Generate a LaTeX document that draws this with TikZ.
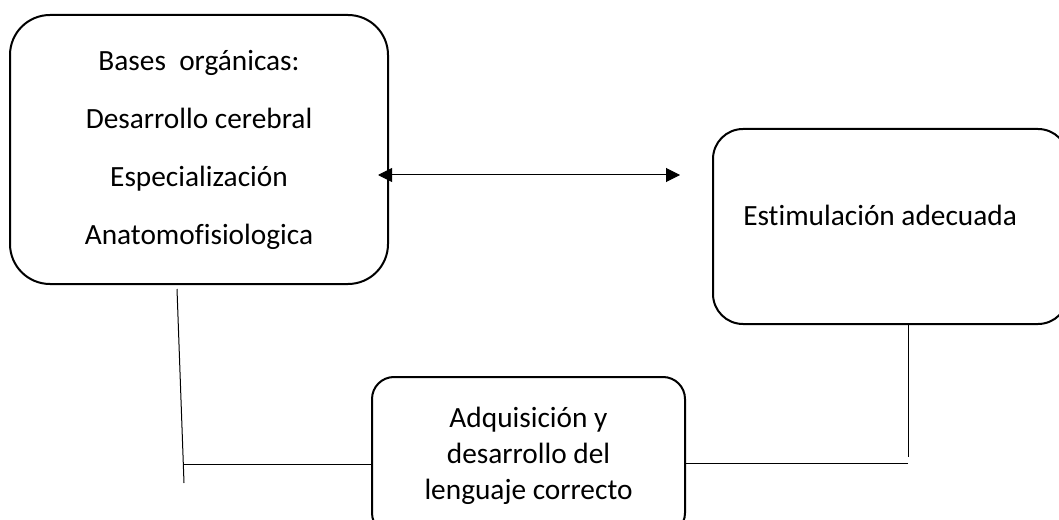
\documentclass[tikz,border=0pt]{standalone}
\usepackage{fontspec}
\setmainfont{Carlito}[Ligatures=NoCommon]
\usetikzlibrary{arrows.meta}
\begin{document}
\begin{tikzpicture}[x=0.75pt,y=-0.75pt,
  box/.style={draw=black,line width=1.5pt,rounded corners=#1,inner sep=0pt,outer sep=0pt,align=center},
  conn/.style={draw=black,line width=0.75pt},
  txt/.style={font=\fontsize{22}{27}\selectfont}]
\useasboundingbox (0,0) rectangle (1059,520);
\node[box=30pt,minimum width=283.5pt,minimum height=201.75pt,
      font=\fontsize{22}{43.5}\selectfont] (A) at (199,149.5)
  {Bases\ \ orgánicas:\\Desarrollo cerebral\\Especialización\\Anatomofisiologica};
\node[box=22.5pt,minimum width=266.25pt,minimum height=146.25pt] (B) at (890.5,226.5) {};
\node[txt,anchor=base west,inner sep=0pt] (Bt) at (743,225) {Estimulación adecuada};
\node[box=16.5pt,minimum width=234.75pt,minimum height=118.5pt,
      font=\fontsize{22}{27}\selectfont] (C) at (528.5,456)
  {Adquisición y\\desarrollo del\\lenguaje correcto};
% double arrow
\coordinate (a1) at (378,175);
\coordinate (a2) at (680,175);
\draw[conn,{Triangle[length=10.5pt,width=10.5pt]}-{Triangle[length=10.5pt,width=10.5pt]}] (a1) -- (a2);
% left connector
\coordinate (l1) at (177,289);
\coordinate (l2) at (184,483);
\coordinate (lh) at (183.2,464);
\draw[conn] (l1) -- (l2);
\draw[conn] (lh) -- (lh -| C.west);
% right connector
\coordinate (r1) at (908,457);
\coordinate (rh) at (908,463);
\draw[conn] (r1 |- B.south) -- (r1);
\draw[conn] (rh) -- (rh -| C.east);
\end{tikzpicture}
\end{document}
